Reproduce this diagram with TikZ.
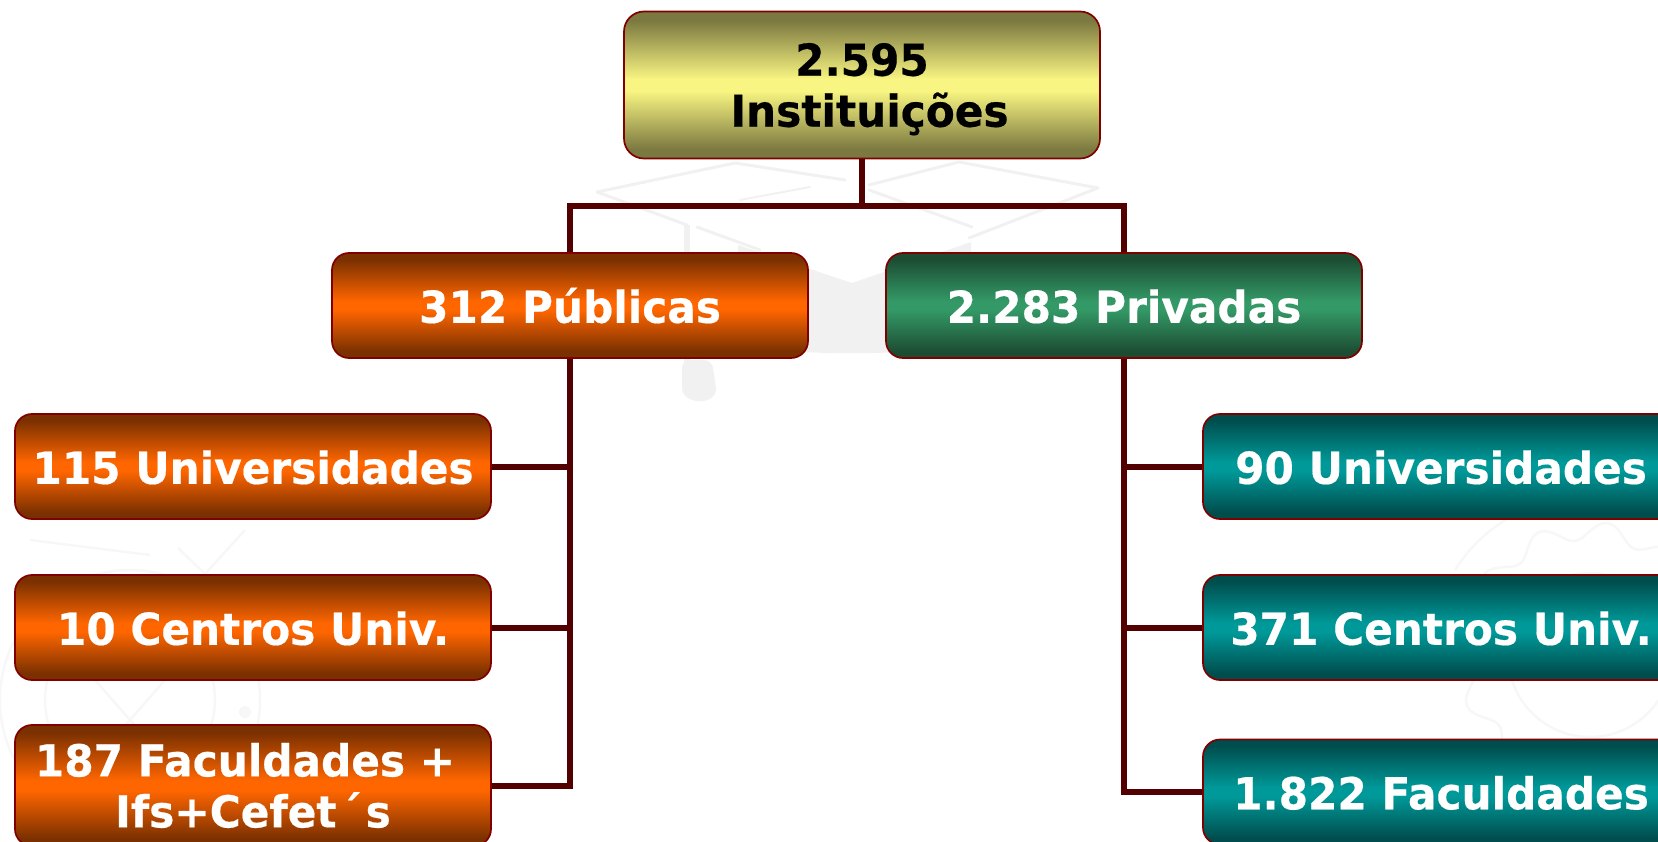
\documentclass[tikz,border=0pt]{standalone}
\usepackage{fontspec}
\setmainfont{DejaVu Sans}[FakeStretch=0.96,BoldFeatures={FakeBold=0.4}]
\usetikzlibrary{calc}
\definecolor{linkc}{HTML}{520000}
\definecolor{edgec}{HTML}{800000}
\definecolor{markc}{HTML}{F1F1F1}
\definecolor{markf}{HTML}{F7F7F7}
\definecolor{yd}{HTML}{7B7840}\definecolor{ym}{HTML}{F8F582}
\definecolor{od}{HTML}{7A3000}\definecolor{om}{HTML}{FF6600}
\definecolor{gd}{HTML}{1C4D33}\definecolor{gm}{HTML}{339966}
\definecolor{td}{HTML}{004D4D}\definecolor{tm}{HTML}{009999}
\pgfdeclareverticalshading{yshade}{100bp}{color(0bp)=(yd);color(25bp)=(yd);color(28bp)=(yd);color(48bp)=(ym);color(52bp)=(ym);color(72bp)=(yd);color(75bp)=(yd);color(100bp)=(yd)}
\pgfdeclareverticalshading{oshade}{100bp}{color(0bp)=(od);color(25bp)=(od);color(28bp)=(od);color(48bp)=(om);color(52bp)=(om);color(72bp)=(od);color(75bp)=(od);color(100bp)=(od)}
\pgfdeclareverticalshading{gshade}{100bp}{color(0bp)=(gd);color(25bp)=(gd);color(28bp)=(gd);color(48bp)=(gm);color(52bp)=(gm);color(72bp)=(gd);color(75bp)=(gd);color(100bp)=(gd)}
\pgfdeclareverticalshading{tshade}{100bp}{color(0bp)=(td);color(25bp)=(td);color(28bp)=(td);color(48bp)=(tm);color(52bp)=(tm);color(72bp)=(td);color(75bp)=(td);color(100bp)=(td)}
\tikzset{
  box/.style={draw=edgec,line width=1.7pt,rounded corners=17pt,minimum width=476pt,inner sep=0pt,
    align=center,font=\bfseries\fontsize{44}{51}\selectfont,text=white},
  boxa/.style={box,minimum height=105pt},
  oneline/.style={text height=34.6pt,text depth=0pt},
  ybox/.style={box,minimum height=147pt,shade,shading=yshade,text=black,rounded corners=20pt},
  obox/.style={boxa,shade,shading=oshade},
  gbox/.style={boxa,shade,shading=gshade},
  tbox/.style={boxa,shade,shading=tshade},
  link/.style={draw=linkc,line width=6pt},
  capline/.style={draw=markc,line width=3pt,line cap=round,line join=round},
  faint/.style={draw=markf,line width=2.5pt}
}
\begin{document}
\begin{tikzpicture}[x=1pt,y=-1pt]
\useasboundingbox (0,0) rectangle (1658,842);
\clip (0,0) rectangle (1658,842);
% watermark: graduation cap
\fill[markc] (738,245) -- (852,283) -- (971,242) -- (971,345) .. controls (900,356) and (800,356) .. (738,345) -- cycle;
\draw[capline] (597,192) -- (735,163) -- (845,180);
\draw[capline] (869,185) -- (959,162) -- (1098,188) -- (969,238);
\draw[capline] (597,192) -- (687,225);
\draw[capline] (869,190) -- (972,227);
\draw[capline] (697,227) -- (760,250);
\draw[capline,line width=2pt] (740,200) -- (810,187);
\draw[markc,line width=6pt] (687,225) -- (687,362);
\fill[markc,rounded corners=8pt] (682,360) -- (712,360) -- (717,396) -- (700,403) -- (682,396) -- cycle;
% watermark: wheel, lower left
\draw[faint] (130,700) circle (130);
\draw[faint] (130,700) circle (85);
\draw[faint] (30,540) -- (150,555);
\draw[faint] (178,548) -- (205,574) -- (245,530);
\draw[faint] (60,800) -- (200,640);
\draw[faint] (60,640) -- (200,800);
\fill[markf] (245,712) circle (6);
% watermark: gear, lower right
\draw[faint] (1590,655) circle (82);
\draw[faint,smooth,samples=180,domain=0:360] plot ({1590+124*cos(\x)+9*cos(\x)*sin(12*\x)},{655+124*sin(\x)+9*sin(\x)*sin(12*\x)});
\draw[faint] (1455,570) arc (212:280:155);
% boxes
\node[ybox] (top) at (862,85) {\rule{0pt}{41pt}2.595\\\hspace*{15pt}Instituições};
\node[obox,oneline] (pub) at (570,305.5) {312 Públicas};
\node[gbox,oneline] (pri) at (1124,305.5) {2.283 Privadas};
\node[obox,oneline] (l1) at (253,466.5) {115 Universidades};
\node[obox,oneline] (l2) at (253,627.5) {10 Centros Univ.};
\node[obox,minimum height=121pt] (l3) at (253,785.5) {187 Faculdades +\hspace{16pt}\null\\Ifs+Cefet\kern4pt´\kern4pt s};
\node[tbox,oneline] (r1) at (1441,466.5) {90 Universidades};
\node[tbox,oneline] (r2) at (1441,627.5) {371 Centros Univ.};
\node[tbox,oneline] (r3) at (1441,792) {1.822 Faculdades};
% connectors
\coordinate (bus) at (862,206);
\draw[link] (top.south) -- (bus);
\draw[link] (pub.north) |- (bus) -| (pri.north);
\draw[link] (pub.south) |- (l3.east);
\draw[link] (pri.south) |- (r3.west);
\draw[link] (l1.east) -- (l1.east -| pub.south);
\draw[link] (l2.east) -- (l2.east -| pub.south);
\draw[link] (r1.west) -- (r1.west -| pri.south);
\draw[link] (r2.west) -- (r2.west -| pri.south);
\end{tikzpicture}
\end{document}
